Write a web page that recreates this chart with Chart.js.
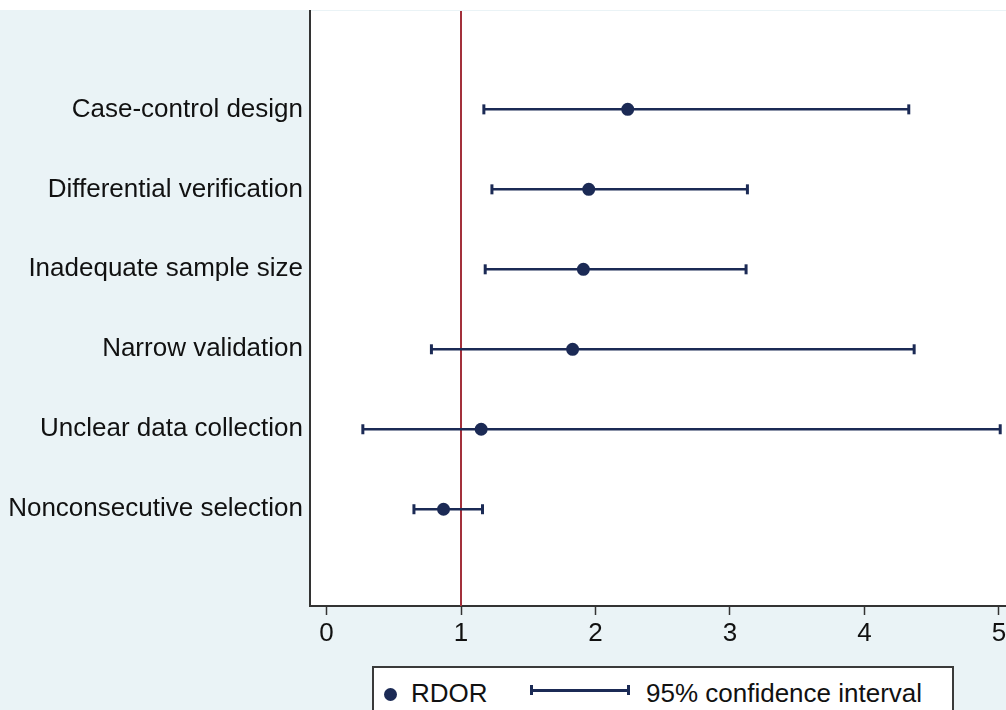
<!DOCTYPE html>
<html>
<head>
<meta charset="utf-8">
<script src="https://cdn.jsdelivr.net/npm/chart.js@4.4.1/dist/chart.umd.min.js"></script>
<style>
    html, body { margin: 0; padding: 0; background: #fff; overflow: hidden; }
    #panel {
        position: absolute; left: 0; top: 10px;
        width: 1006px; height: 700px;
        background: #eaf3f6; overflow: hidden;
    }
    #forest { position: absolute; left: 0; top: -7px; }
    #legend {
        position: absolute; left: 372px; top: 656px;
        width: 578px; height: 70px;
        background: #fff; border: 2px solid #3a3a3a;
        font-family: 'Liberation Sans', Arial, sans-serif; font-size: 26px; color: #111;
    }
    .dot { position: absolute; left: 10px; top: 20px; width: 13px; height: 13px; border-radius: 50%; background: #1b2a55; }
    .ci { position: absolute; left: 156px; top: 17px; width: 100px; height: 10px;
          border-left: 3px solid #1b2a55; border-right: 3px solid #1b2a55; box-sizing: border-box; }
    .ci::after { content: ''; position: absolute; left: 0; right: 0; top: 4px; height: 2.5px; background: #1b2a55; }
    .lbl { position: absolute; top: 10px; line-height: 30px; }
</style>
</head>
<body>
<div id="panel">
    <canvas id="forest" width="1030" height="707"></canvas>
    <div id="legend">
        <span class="dot"></span><span class="lbl" style="left:37px">RDOR</span>
        <span class="ci"></span><span class="lbl" style="left:272px">95% confidence interval</span>
    </div>
</div>
<script>
// Data
const categories = ['Case-control design', 'Differential verification', 'Inadequate sample size',
    'Narrow validation', 'Unclear data collection', 'Nonconsecutive selection'];
const rowPos = [6, 5, 4, 3, 2, 1];
const rdor = [2.24, 1.95, 1.91, 1.83, 1.15, 0.87];
const ciLow = [1.17, 1.23, 1.18, 0.78, 0.27, 0.65];
const ciHigh = [4.33, 3.13, 3.12, 4.37, 5.01, 1.16];
const xTicks = [0, 1, 2, 3, 4, 5];
const refLine = 1;

const navy = '#1b2a55';
const font = { family: 'Liberation Sans', size: 26 };

// white plot region + red reference line behind the marks
const plotDecor = {
    id: 'plotDecor',
    beforeDraw(chart) {
        const { ctx, chartArea } = chart;
        ctx.save();
        ctx.fillStyle = '#fff';
        ctx.fillRect(chartArea.left, chartArea.top, chartArea.right - chartArea.left, chartArea.bottom - chartArea.top);
        ctx.restore();
    },
    beforeDatasetsDraw(chart) {
        const { ctx, chartArea, scales } = chart;
        const x = scales.x.getPixelForValue(refLine);
        ctx.save();
        ctx.strokeStyle = '#a3303b';
        ctx.lineWidth = 2;
        ctx.beginPath();
        ctx.moveTo(x, chartArea.top);
        ctx.lineTo(x, chartArea.bottom);
        ctx.stroke();
        ctx.restore();
    }
};

const datasets = [{
    label: 'RDOR',
    data: rdor.map((v, i) => ({ x: v, y: rowPos[i] })),
    pointRadius: 6.5,
    pointBackgroundColor: navy,
    pointBorderWidth: 0
}];

// one line per confidence interval, caps drawn as rotated line points
categories.forEach((c, i) => {
    datasets.push({
        label: c,
        data: [{ x: ciLow[i], y: rowPos[i] }, { x: ciHigh[i], y: rowPos[i] }],
        showLine: true,
        borderColor: navy,
        borderWidth: 2.5,
        pointStyle: 'line',
        pointRotation: 90,
        pointRadius: 5,
        pointBorderColor: navy,
        pointBorderWidth: 3
    });
});

new Chart(document.getElementById('forest'), {
    type: 'scatter',
    data: { datasets: datasets },
    options: {
        responsive: false,
        animation: false,
        devicePixelRatio: 1,
        layout: { padding: { top: 0, right: 15, left: 0, bottom: 0 } },
        plugins: { legend: { display: false }, tooltip: { enabled: false } },
        scales: {
            x: {
                type: 'linear',
                min: -0.123,
                max: 5.12,
                afterBuildTicks: s => { s.ticks = xTicks.map(v => ({ value: v })); },
                afterFit: s => { s.height = 104; s.paddingLeft = 0; s.paddingRight = 0; },
                grid: { drawOnChartArea: false, drawTicks: true, tickLength: 9, tickColor: '#333', tickWidth: 1.5 },
                border: { color: '#333', width: 2 },
                ticks: { color: '#111', font: font, padding: 3, maxRotation: 0 }
            },
            y: {
                type: 'linear',
                min: -0.21,
                max: 7.23,
                afterBuildTicks: s => { s.ticks = rowPos.map(v => ({ value: v })); },
                afterFit: s => { s.width = 310; s.paddingTop = 0; s.paddingBottom = 0; },
                grid: { display: false, drawTicks: false },
                border: { display: true, color: '#333', width: 2 },
                ticks: {
                    color: '#111',
                    font: font,
                    padding: 7,
                    callback: v => categories[rowPos.indexOf(v)]
                }
            }
        }
    },
    plugins: [plotDecor]
});
</script>
</body>
</html>
